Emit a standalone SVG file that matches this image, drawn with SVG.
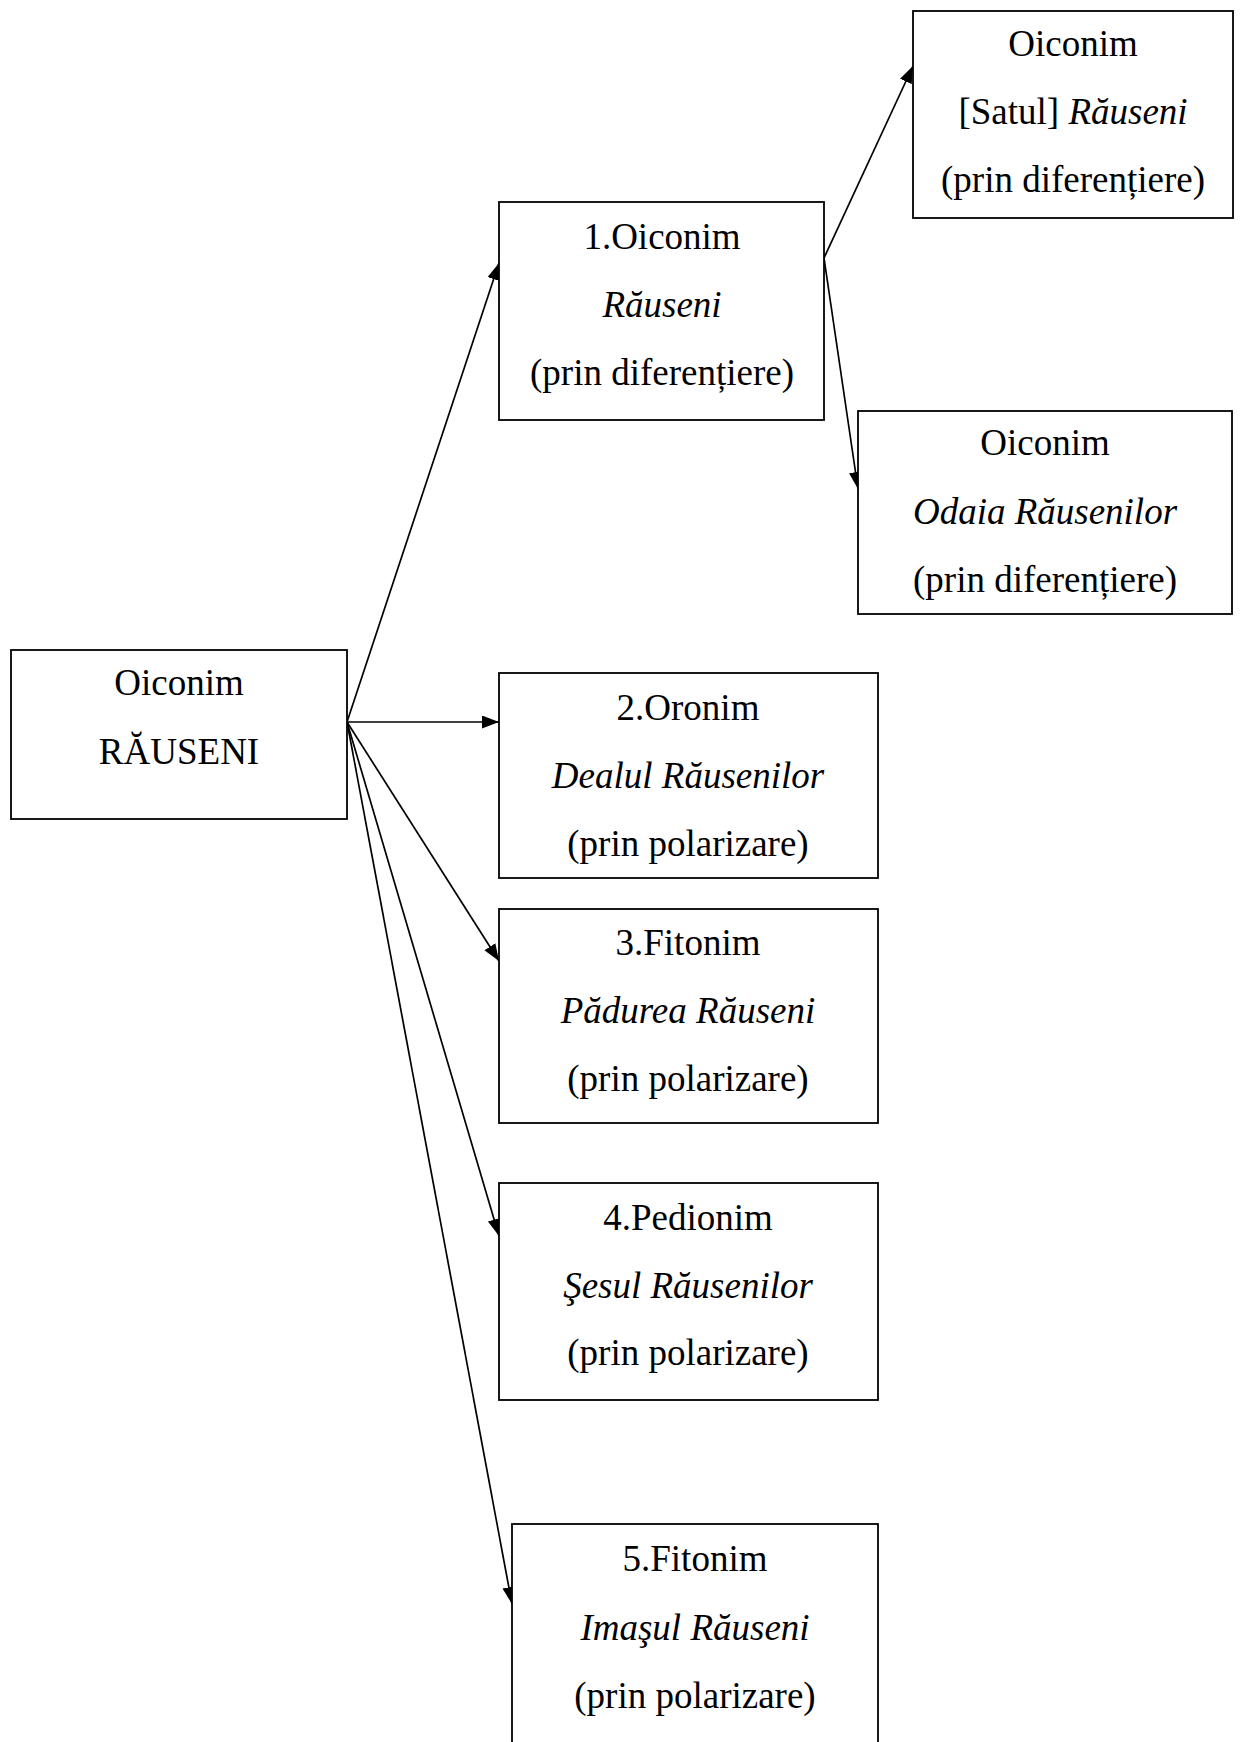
<svg xmlns="http://www.w3.org/2000/svg" width="1240" height="1742" viewBox="0 0 1240 1742">
<style>
.box{fill:#fff;stroke:#000;stroke-width:1.8}
.t{font-family:"Liberation Serif","Times New Roman",serif;font-size:37px;fill:#000;text-anchor:middle}
.i{font-style:italic}
.c{stroke:#000;stroke-width:1.7;fill:none;marker-end:url(#ah)}
</style>
<defs>
<marker id="ah" markerUnits="userSpaceOnUse" markerWidth="18" markerHeight="14" refX="17" refY="6.5" orient="auto">
<path d="M0,0 L17,6.5 L0,13 Z" fill="#000"/>
</marker>
</defs>
<rect width="1240" height="1742" fill="#fff"/>
<g id="connectors">
<line class="c" x1="347" y1="722" x2="499" y2="263"/>
<line class="c" x1="347" y1="722" x2="499" y2="722"/>
<line class="c" x1="347" y1="722" x2="499" y2="961"/>
<line class="c" x1="347" y1="722" x2="499" y2="1236"/>
<line class="c" x1="347" y1="722" x2="512" y2="1604"/>
<line class="c" x1="824" y1="258" x2="913" y2="66"/>
<line class="c" x1="824" y1="258" x2="858" y2="489"/>
</g>
<g id="root">
<rect class="box" x="11" y="650" width="336" height="169"/>
<text class="t" x="179" y="695">Oiconim</text>
<text class="t" x="179" y="764">RĂUSENI</text>
</g>
<g id="n1">
<rect class="box" x="499" y="202" width="325" height="218"/>
<text class="t" x="662" y="249">1.Oiconim</text>
<text class="t i" x="662" y="317">Răuseni</text>
<text class="t" x="662" y="385">(prin diferențiere)</text>
</g>
<g id="n1a">
<rect class="box" x="913" y="11" width="320" height="207"/>
<text class="t" x="1073" y="56">Oiconim</text>
<text class="t" x="1073" y="124">[Satul] <tspan class="i">Răuseni</tspan></text>
<text class="t" x="1073" y="192">(prin diferențiere)</text>
</g>
<g id="n1b">
<rect class="box" x="858" y="411" width="374" height="203"/>
<text class="t" x="1045" y="455">Oiconim</text>
<text class="t i" x="1045" y="524">Odaia Răusenilor</text>
<text class="t" x="1045" y="592">(prin diferențiere)</text>
</g>
<g id="n2">
<rect class="box" x="499" y="673" width="379" height="205"/>
<text class="t" x="688" y="720">2.Oronim</text>
<text class="t i" x="688" y="788">Dealul Răusenilor</text>
<text class="t" x="688" y="856">(prin polarizare)</text>
</g>
<g id="n3">
<rect class="box" x="499" y="909" width="379" height="214"/>
<text class="t" x="688" y="955">3.Fitonim</text>
<text class="t i" x="688" y="1023">Pădurea Răuseni</text>
<text class="t" x="688" y="1091">(prin polarizare)</text>
</g>
<g id="n4">
<rect class="box" x="499" y="1183" width="379" height="217"/>
<text class="t" x="688" y="1230">4.Pedionim</text>
<text class="t i" x="688" y="1298">Şesul Răusenilor</text>
<text class="t" x="688" y="1365">(prin polarizare)</text>
</g>
<g id="n5">
<rect class="box" x="512" y="1524" width="366" height="260"/>
<text class="t" x="695" y="1571">5.Fitonim</text>
<text class="t i" x="695" y="1640">Imaşul Răuseni</text>
<text class="t" x="695" y="1708">(prin polarizare)</text>
</g>
</svg>
